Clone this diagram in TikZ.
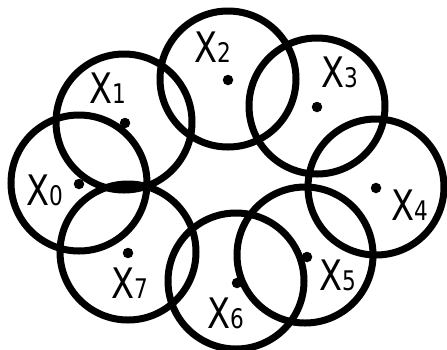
\documentclass[tikz,border=0pt]{standalone}
\usepackage{fontspec}
\newfontfamily\lblfont{DejaVu Sans}[FakeStretch=0.8]
\tikzset{
  ring/.style={draw=black, circle, line width=7pt, minimum size=136pt, inner sep=0pt},
  centre/.style={fill=black, circle, minimum size=10.5pt, inner sep=0pt},
  lbl/.style={anchor=base west, inner sep=0pt, font=\lblfont}
}
\newcommand{\xlab}[1]{{\fontsize{42}{42}\selectfont X}{\fontsize{27}{27}\selectfont #1}}
\begin{document}
\begin{tikzpicture}[x=1pt,y=-1pt]
\useasboundingbox (0,0) rectangle (447,349);
% circles
\node[ring] (c0) at (79,183) {};
\node[ring] (c1) at (124,122) {};
\node[ring] (c2) at (228,79) {};
\node[ring] (c3) at (317,106) {};
\node[ring] (c4) at (376,187) {};
\node[ring] (c5) at (305,255) {};
\node[ring] (c6) at (236,281) {};
\node[ring] (c7) at (128,252) {};
% centre dots
\node[centre] (d0) at (79,184) {};
\node[centre] (d1) at (125,123) {};
\node[centre] (d2) at (228,80) {};
\node[centre] (d3) at (317,107) {};
\node[centre] (d4) at (376,188) {};
\node[centre] (d5) at (307,257) {};
\node[centre] (d6) at (237,283) {};
\node[centre] (d7) at (128,253) {};
% labels
\node[lbl] (l0) at (26,205) {\xlab{0}};
\node[lbl] (l1) at (89,103) {\xlab{1}};
\node[lbl] (l2) at (194,62) {\xlab{2}};
\node[lbl] (l3) at (321,87) {\xlab{3}};
\node[lbl] (l4) at (391,220) {\xlab{4}};
\node[lbl] (l5) at (319,290) {\xlab{5}};
\node[lbl] (l6) at (207,328) {\xlab{6}};
\node[lbl] (l7) at (111,298) {\xlab{7}};
\end{tikzpicture}
\end{document}
